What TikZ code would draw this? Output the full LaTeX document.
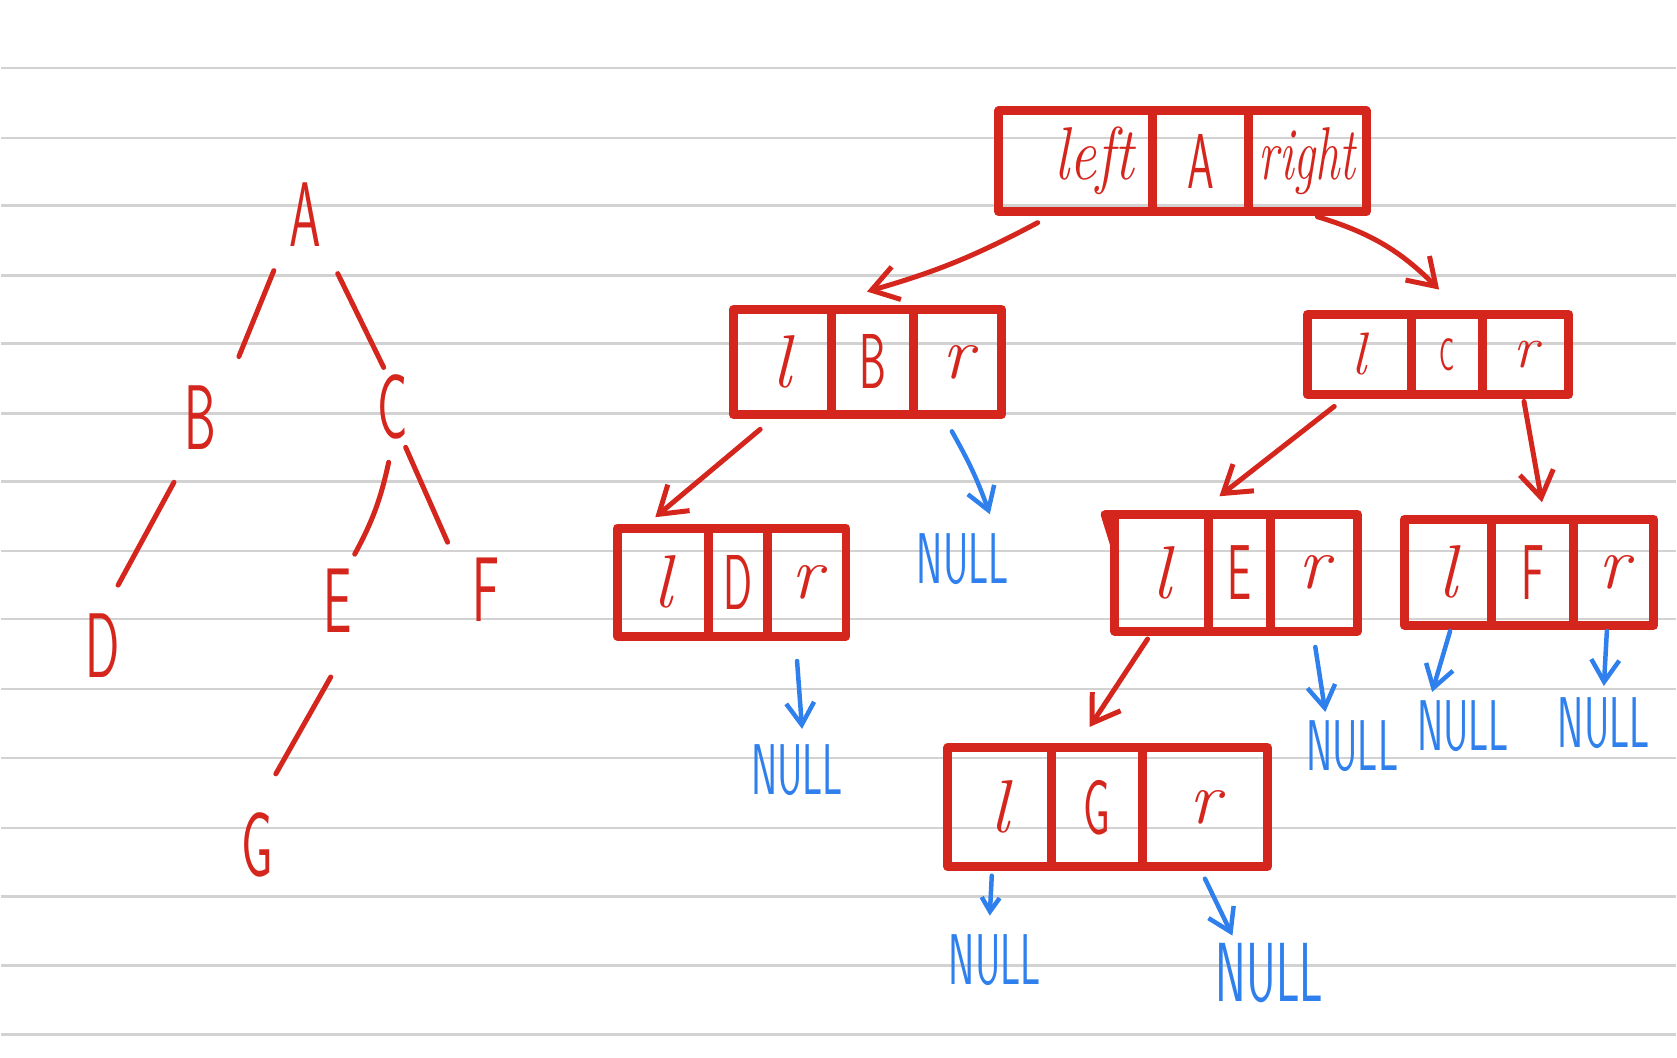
\documentclass[tikz,border=0pt]{standalone}
\usepackage{fontspec}
\usepackage{graphicx}
\usetikzlibrary{arrows.meta}

\definecolor{inkred}{RGB}{213,38,30}
\definecolor{inkblue}{RGB}{47,128,237}
\definecolor{ruled}{RGB}{210,210,210}

\newcommand{\squeeze}[1]{\scalebox{0.55}[1]{#1}}

\tikzset{
  cell/.style={rectangle, draw=inkred, line width=9pt, line join=round,
    inner sep=0pt, outer sep=0pt, text=inkred,
    font=\fontsize{75}{75}\selectfont\itshape},
  valcell/.style={cell, font=\fontsize{78}{78}\selectfont\sffamily},
  letter/.style={text=inkred, font=\fontsize{92}{92}\selectfont\sffamily},
  nulltext/.style={text=inkblue, font=\fontsize{72}{72}\selectfont\sffamily},
  edge/.style={inkred, line width=5pt, line cap=round},
  ptr/.style={inkred, line width=5pt, line cap=round, line join=round,
    -{Straight Barb[length=26pt,width=34pt]}},
  nullptr/.style={inkblue, line width=4.5pt, line cap=round, line join=round,
    -{Straight Barb[length=22pt,width=28pt]}}
}

\begin{document}
\begin{tikzpicture}[x=1pt,y=-1pt]
      % \draw[help lines](0,0) grid (1677,1059);

      % Bounding box
      \path (0,0) rectangle (1677,1059);

      % ruled paper
      \foreach \y in {68,138,206,276,344,414,482,552,620,690,759,829,898,967,1036}
        \draw[ruled, line width=2.5pt] (0,\y) -- (1677,\y);

      % the tree
      \draw (304,215) node (ta)[letter] {\squeeze{A}};
      \draw (199,418) node (tb)[letter] {\squeeze{B}};
      \draw (392,408) node (tc)[letter] {\squeeze{C}};
      \draw (102,647) node (td)[letter] {\squeeze{D}};
      \draw (337,602) node (te)[letter] {\squeeze{E}};
      \draw (485,591) node (tf)[letter] {\squeeze{F}};
      \draw (256,846) node (tg)[letter] {\squeeze{G}};

      \draw[edge] ([shift={(-31,56)}]ta.center) -- ([shift={(39,-61)}]tb.center);
      \draw[edge] ([shift={(33,59)}]ta.center) -- ([shift={(-9,-40)}]tc.center);
      \draw[edge] ([shift={(-26,65)}]tb.center) -- ([shift={(15,-61)}]td.center);
      \draw[edge] ([shift={(-4,55)}]tc.center) to[bend left=8] ([shift={(17,-47)}]te.center);
      \draw[edge] ([shift={(13,40)}]tc.center) -- ([shift={(-38,-48)}]tf.center);
      \draw[edge] ([shift={(-7,76)}]te.center) -- ([shift={(19,-71)}]tg.center);

      % node A
      \draw (1076,161.5) node (al)[cell, minimum width=154pt, minimum height=101pt] {\hspace*{38pt}\scalebox{0.8}[1]{left}};
      \draw (1201,161.5) node (av)[valcell, minimum width=96pt, minimum height=101pt] {\squeeze{A}};
      \draw (1308,161.5) node (ar)[cell, minimum width=118pt, minimum height=101pt] {\scalebox{0.65}[1]{right}};

      % node B
      \draw (782,362.5) node (bl)[cell, minimum width=98pt, minimum height=105pt] {l};
      \draw (872.5,362.5) node (bv)[valcell, minimum width=83pt, minimum height=105pt] {\squeeze{B}};
      \draw (958,362.5) node (br)[cell, minimum width=88pt, minimum height=105pt] {r};

      % node C
      \draw (1360,355) node (cl)[cell, minimum width=104pt, minimum height=80pt, font=\fontsize{60}{60}\selectfont\itshape] {l};
      \draw (1447.5,355) node (cv)[valcell, minimum width=71pt, minimum height=80pt, font=\fontsize{46}{46}\selectfont\sffamily] {\squeeze{C}};
      \draw (1526.5,355) node (cr)[cell, minimum width=87pt, minimum height=80pt, font=\fontsize{60}{60}\selectfont\itshape] {r};

      % node D
      \draw (662.5,583) node (dl)[cell, minimum width=91pt, minimum height=108pt] {l};
      \draw (737.5,583) node (dv)[valcell, minimum width=59pt, minimum height=108pt] {\squeeze{D}};
      \draw (806.5,583) node (dr)[cell, minimum width=79pt, minimum height=108pt] {r};

      % node E
      \draw (1162,573.5) node (el)[cell, minimum width=94pt, minimum height=117pt] {l};
      \draw (1240,573.5) node (ev)[valcell, minimum width=62pt, minimum height=117pt] {\squeeze{E}};
      \draw (1314.5,573.5) node (er)[cell, minimum width=87pt, minimum height=117pt] {r};
      \draw[inkred, line width=8pt, line join=round, line cap=round] (el.north west) -- ++(-10,0) -- ([yshift=-32pt]el.north west);

      % node F
      \draw (1448.5,573) node (fl)[cell, minimum width=87pt, minimum height=106pt] {l};
      \draw (1533.5,573) node (fv)[valcell, minimum width=83pt, minimum height=106pt] {\squeeze{F}};
      \draw (1615,573) node (fr)[cell, minimum width=80pt, minimum height=106pt] {r};

      % node G
      \draw (1000,808.5) node (gl)[cell, minimum width=104pt, minimum height=119pt] {l};
      \draw (1097.5,808.5) node (gv)[valcell, minimum width=91pt, minimum height=119pt] {\squeeze{G}};
      \draw (1205.5,808.5) node (gr)[cell, minimum width=125pt, minimum height=119pt] {r};

      % pointers
      \draw[ptr] ([shift={(-38,11)}]al.south) to[bend left=6] ([shift={(-5.5,-18)}]bv.north);
      \draw[ptr] ([shift={(10,5)}]ar.south) to[bend left=14] ([shift={(-7.5,-25)}]cv.north);
      \draw[ptr] ([shift={(-22,15)}]bl.south) -- ([shift={(-7.5,-11)}]dl.north);
      \draw[ptr] ([shift={(-25,12)}]cl.south) -- ([shift={(-20,-18)}]ev.north);
      \draw[ptr] ([shift={(-1.5,7)}]cr.south) -- ([shift={(9.5,-17)}]fv.north);
      \draw[ptr] ([shift={(-14,8)}]el.south) -- ([shift={(-7.5,-21)}]gv.north);

      % NULL
      \draw (963,560) node (nb)[nulltext] {\squeeze{NULL}};
      \draw (797,771) node (nd)[nulltext] {\squeeze{NULL}};
      \draw (1353,747) node (ne)[nulltext] {\squeeze{NULL}};
      \draw (1464,727) node (nfl)[nulltext] {\squeeze{NULL}};
      \draw (1605,724) node (nfr)[nulltext] {\squeeze{NULL}};
      \draw (995,962) node (ngl)[nulltext] {\squeeze{NULL}};
      \draw (1270,975) node (ngr)[nulltext, font=\fontsize{84}{84}\selectfont\sffamily] {\squeeze{NULL}};

      \draw[nullptr] ([shift={(-6,17)}]br.south) to[bend left=5] ([shift={(27,-45)}]nb.center);
      \draw[nullptr] ([shift={(-9.5,25)}]dr.south) -- ([shift={(5,-41)}]nd.center);
      \draw[nullptr] ([shift={(1.5,16)}]er.south) -- ([shift={(-27,-34)}]ne.center);
      \draw[nullptr] ([shift={(2.5,6)}]fl.south) -- ([shift={(-31,-34)}]nfl.center);
      \draw[nullptr] ([shift={(-7,6)}]fr.south) -- ([shift={(0,-37)}]nfr.center);
      \draw[nullptr, -{Straight Barb[length=14pt,width=18pt]}] ([shift={(-8,9)}]gl.south) -- ([shift={(-5,-45)}]ngl.center);
      \draw[nullptr] ([shift={(0,12)}]gr.south) -- ([shift={(-37,-38)}]ngr.center);
\end{tikzpicture}
\end{document}
